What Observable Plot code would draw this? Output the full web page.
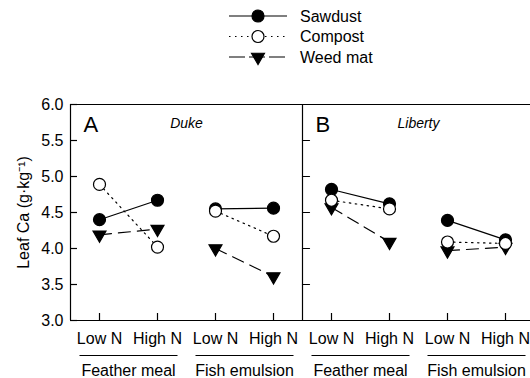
<!DOCTYPE html>
<html>
<head>
<meta charset="utf-8">
<script src="https://cdn.jsdelivr.net/npm/d3@7"></script>
<script src="https://cdn.jsdelivr.net/npm/@observablehq/plot@0.6"></script>
<style>
  html, body { margin: 0; padding: 0; background: #fff; overflow: hidden; }
  #chart { width: 530px; overflow: hidden; font-family: "Liberation Sans", Arial, sans-serif; }
  #chart svg { display: block; max-width: none !important; }
</style>
</head>
<body>
<div id="chart"></div>
<script>
// ---- data ----
const cultivars = ["Duke", "Liberty"];
const panelLetters = ["A", "B"];
const fertilizers = ["Feather meal", "Fish emulsion"];
const nitrogen = ["Low N", "High N"];
const mulches = ["Sawdust", "Compost", "Weed mat"];
// order: Duke FM Low, Duke FM High, Duke FE Low, Duke FE High, Liberty FM Low, Liberty FM High, Liberty FE Low, Liberty FE High
const sawdust = [4.40, 4.67, 4.55, 4.56, 4.82, 4.62, 4.39, 4.12];
const compost = [4.89, 4.02, 4.52, 4.17, 4.67, 4.55, 4.09, 4.07];
const weedMat = [4.19, 4.27, 4.00, 3.61, 4.57, 4.09, 3.97, 4.02];
const yTicks = [3.0, 3.5, 4.0, 4.5, 5.0, 5.5, 6.0];
const yLabel = "Leaf Ca (g·kg⁻¹)";

// ---- derived tables ----
const seriesValues = {"Sawdust": sawdust, "Compost": compost, "Weed mat": weedMat};
const perPanel = fertilizers.length * nitrogen.length;
const rows = [];
cultivars.forEach((c, ci) => fertilizers.forEach((f, fi) => nitrogen.forEach((n, ni) =>
  mulches.forEach(m => rows.push({
    cultivar: c, fertilizer: f, nitrogen: n, mulch: m,
    group: c + "|" + f,
    pos: ci * perPanel + fi * nitrogen.length + ni,
    value: seriesValues[m][ci * perPanel + fi * nitrogen.length + ni]
  })))));
const panels = cultivars.map((c, i) => ({
  cultivar: c, letter: panelLetters[i],
  start: i * perPanel - 0.5, center: i * perPanel + (perPanel - 1) / 2
}));
const groups = [];
cultivars.forEach((c, ci) => fertilizers.forEach((f, fi) => groups.push({
  name: f, low: ci * perPanel + fi * 2, high: ci * perPanel + fi * 2 + 1
})));
const xTicks = d3.range(cultivars.length * perPanel);
const groupTicks = groups.map(g => (g.low + g.high) / 2);
const panelEdges = panels.map(p => p.start);
const dividers = panelEdges.slice(1);
const yDomain = [yTicks[0], yTicks[yTicks.length - 1]];

const look = {
  "Sawdust":  {dash: null,      symbol: "circle",   fill: "black", r: 6,   rotate: 0},
  "Compost":  {dash: "1.5,4.5", symbol: "circle",   fill: "white", r: 6,   rotate: 0},
  "Weed mat": {dash: "12,7",    symbol: "triangle", fill: "black", r: 4.8, rotate: 180}
};
const font = '"Liberation Sans", Arial, sans-serif';

// ---- legend (above the plot) ----
const legend = d3.create("svg").attr("width", 530).attr("height", 70)
  .style("font-family", font).style("display", "block");
mulches.forEach((m, i) => {
  const y = 16 + i * 20.5;
  const L = look[m];
  legend.append("line").attr("x1", 229).attr("x2", 287).attr("y1", y).attr("y2", y)
    .attr("stroke", "black").attr("stroke-width", 1.2)
    .attr("stroke-dasharray", m === "Weed mat" ? "16,4" : L.dash);
  legend.append("path")
    .attr("d", d3.symbol(L.symbol === "circle" ? d3.symbolCircle : d3.symbolTriangle, Math.PI * L.r * L.r)())
    .attr("transform", `translate(258,${y}) rotate(${L.rotate})`)
    .attr("fill", L.fill).attr("stroke", "black").attr("stroke-width", 1.2);
  legend.append("text").attr("x", 300).attr("y", y).attr("dy", "0.35em")
    .attr("font-size", 16).text(m);
});
document.getElementById("chart").append(legend.node());

// ---- plot ----
const lineMarks = mulches.map(m => Plot.line(rows.filter(d => d.mulch === m), {
  x: "pos", y: "value", z: "group",
  stroke: "black", strokeWidth: 1.2, strokeDasharray: look[m].dash
}));
const dotMarks = ["Sawdust", "Weed mat", "Compost"].map(m => Plot.dot(rows.filter(d => d.mulch === m), {
  x: "pos", y: "value",
  symbol: look[m].symbol, r: look[m].r, rotate: look[m].rotate,
  fill: look[m].fill, stroke: "black", strokeWidth: 1.2
}));
const inwardTick = {draw(context, l) { context.moveTo(0, 0); context.lineTo(0, -l); }};

const plot = Plot.plot({
  width: 560, height: 308,
  marginTop: 34, marginBottom: 58, marginLeft: 70, marginRight: 0,
  style: {fontFamily: font, fontSize: "16px", color: "black", background: "white", maxWidth: "none"},
  x: {domain: [-0.5, xTicks.length - 0.5], range: [70, 534]},
  y: {domain: yDomain},
  marks: [
    Plot.axisY({ticks: yTicks, tickSize: -7, fill: "none", label: null, strokeWidth: 1.2}),
    Plot.vector(dividers.flatMap(x => yTicks.map(y => ({x, y}))), {
      x: "x", y: "y", length: 7, rotate: 90, anchor: "start", shape: inwardTick,
      stroke: "black", strokeWidth: 1.2
    }),
    Plot.axisY({ticks: yTicks, tickSize: 0, tickPadding: 7, tickFormat: d3.format(".1f"),
      label: yLabel, labelAnchor: "center", labelArrow: "none", labelOffset: 53}),
    Plot.axisX({ticks: xTicks, tickSize: -7, fill: "none", label: null, strokeWidth: 1.2}),
    Plot.axisX({ticks: xTicks, tickSize: 0, tickPadding: 12,
      tickFormat: i => nitrogen[i % nitrogen.length], label: null}),
    Plot.axisX({ticks: groupTicks, tickSize: 0, tickPadding: 44,
      tickFormat: t => groups[groupTicks.indexOf(t)].name, label: null}),
    Plot.link(groups, {x1: g => g.low - 0.345, x2: g => g.high + 0.345,
      y1: yDomain[0], y2: yDomain[0], dy: 35, stroke: "black", strokeWidth: 1.2}),
    Plot.ruleY(yDomain, {stroke: "black", strokeWidth: 1.2}),
    Plot.ruleX(panelEdges, {y1: yDomain[0], y2: yDomain[1], stroke: "black", strokeWidth: 1.2}),
    ...lineMarks,
    ...dotMarks,
    Plot.text(panels, {x: "start", text: "letter", frameAnchor: "top", textAnchor: "start",
      lineAnchor: "top", dx: 13, dy: 12, fontSize: 22}),
    Plot.text(panels, {x: "center", text: "cultivar", frameAnchor: "top",
      lineAnchor: "top", dy: 14, fontSize: 14, fontStyle: "italic"})
  ]
});
document.getElementById("chart").append(plot);
</script>
</body>
</html>
